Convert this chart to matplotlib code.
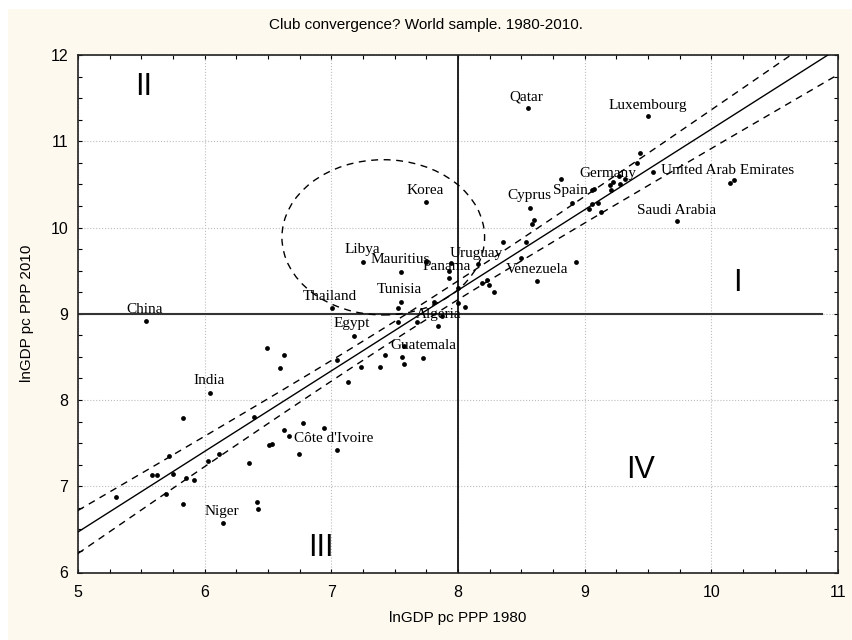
import numpy as np
import matplotlib
matplotlib.use('Agg')
import matplotlib.pyplot as plt
from matplotlib.patches import Ellipse, Rectangle
from matplotlib.ticker import MultipleLocator

# lnGDP per capita PPP, 1980 (x) and 2010 (y)
gdp_1980 = [
    5.535, 7.006, 7.176, 7.044, 7.238, 7.133, 6.490, 6.628, 6.595, 6.040,
    5.832, 6.390, 6.629, 6.669, 6.780, 6.940, 7.048, 6.745, 6.509, 6.533,
    6.114, 6.027, 6.351, 5.716, 5.585, 5.622, 5.750, 5.856, 5.919, 5.695,
    5.298, 5.832, 6.414, 6.424, 6.145,
    7.745, 7.250, 7.748, 7.550, 7.945, 7.927, 7.927, 8.156, 8.002, 7.812,
    7.550, 7.530, 8.002, 8.058, 7.872, 7.840, 7.674, 7.528, 7.560, 7.573,
    7.723, 7.576, 7.421, 7.388, 8.190, 8.229, 8.242, 8.282, 8.356, 8.540,
    8.497, 8.622, 8.935, 8.571, 8.603, 8.585,
    8.551, 9.503, 9.440, 9.415, 9.538, 10.148, 10.182, 9.729, 9.198, 9.224,
    9.269, 9.282, 9.318, 9.209, 9.059, 9.072, 8.816, 8.900, 9.032, 9.059,
    9.109, 9.129,
]
gdp_2010 = [
    8.920, 9.065, 8.747, 8.465, 8.383, 8.213, 8.608, 8.527, 8.368, 8.086,
    7.788, 7.800, 7.649, 7.584, 7.738, 7.676, 7.425, 7.378, 7.475, 7.487,
    7.378, 7.297, 7.270, 7.347, 7.127, 7.127, 7.143, 7.092, 7.077, 6.907,
    6.872, 6.795, 6.814, 6.733, 6.575,
    10.294, 9.595, 9.600, 9.489, 9.594, 9.490, 9.410, 9.575, 9.304, 9.142,
    9.142, 9.063, 9.130, 9.080, 8.972, 8.860, 8.908, 8.908, 8.497, 8.416,
    8.482, 8.628, 8.522, 8.386, 9.360, 9.390, 9.330, 9.250, 9.834, 9.834,
    9.644, 9.380, 9.602, 10.230, 10.085, 10.040,
    11.381, 11.288, 10.863, 10.748, 10.640, 10.515, 10.546, 10.074, 10.495, 10.522,
    10.598, 10.505, 10.565, 10.437, 10.437, 10.446, 10.561, 10.287, 10.220, 10.273,
    10.280, 10.182,
]

# country labels and where the text sits (centre, baseline)
label_names = ['China', 'Thailand', 'Egypt', 'India', "Côte d'Ivoire", 'Niger',
               'Korea', 'Libya', 'Mauritius', 'Panama', 'Uruguay', 'Tunisia',
               'Algeria', 'Guatemala', 'Cyprus', 'Venezuela', 'Qatar', 'Luxembourg',
               'Germany', 'Spain', 'United Arab Emirates', 'Saudi Arabia']
label_x = [5.525, 6.988, 7.158, 6.033, 7.020, 6.138,
           7.743, 7.245, 7.540, 7.909, 8.143, 7.540,
           7.848, 7.724, 8.562, 8.624, 8.537, 9.497,
           9.184, 8.887, 10.129, 9.729]
label_y = [9.012, 9.154, 8.852, 8.187, 7.518, 6.667,
           10.390, 9.703, 9.586, 9.509, 9.656, 9.246,
           8.949, 8.589, 10.333, 9.478, 11.473, 11.377,
           10.580, 10.387, 10.619, 10.159]

quadrants = ['I', 'II', 'III', 'IV']
quad_x = [10.208, 5.516, 6.914, 9.440]
quad_y = [9.355, 11.63, 6.280, 7.190]

x = np.array(gdp_1980)
y = np.array(gdp_2010)

# OLS fit and 95% confidence band for the mean
n = len(x)
slope, intercept = np.polyfit(x, y, 1)
resid = y - (intercept + slope * x)
s = np.sqrt(np.sum(resid ** 2) / (n - 2))
xm = x.mean()
sxx = np.sum((x - xm) ** 2)
xs = np.linspace(5, 11, 200)
fit = intercept + slope * xs
hw = 1.986 * s * np.sqrt(1.0 / n + (xs - xm) ** 2 / sxx)

fig = plt.figure(figsize=(8.52, 6.4), dpi=100, facecolor='white')
fig.patches.append(Rectangle((8 / 852, 0), 1, 1 - 9 / 640, transform=fig.transFigure,
                             facecolor='#fdf9ef', edgecolor='none', zorder=-10))
ax = fig.add_axes([78 / 852, 1 - 572.5 / 640, 760 / 852, 517.5 / 640])
ax.set_facecolor('white')

ax.set_xlim(5, 11)
ax.set_ylim(6, 12)
ax.xaxis.set_major_locator(MultipleLocator(1))
ax.yaxis.set_major_locator(MultipleLocator(1))
ax.xaxis.set_minor_locator(MultipleLocator(0.25))
ax.yaxis.set_minor_locator(MultipleLocator(0.25))
ax.tick_params(which='both', direction='in', top=True, right=True, length=3, width=0.8)
ax.tick_params(axis='x', which='major', pad=9)
ax.tick_params(axis='y', which='major', pad=7)
ax.grid(True, which='major', color='#bdbdbd', linestyle=':', linewidth=0.8)
ax.set_axisbelow(True)
for sp in ax.spines.values():
    sp.set_linewidth(1.2)
    sp.set_color('#222222')

for lab in ax.get_xticklabels() + ax.get_yticklabels():
    lab.set_fontfamily('Liberation Sans')
    lab.set_fontsize(11.5)

# quadrant lines
ax.plot([5, 10.87], [9, 9], color='#333333', linewidth=1.5, zorder=2)
ax.axvline(8, color='#111111', linewidth=1.3, zorder=2)

# regression and confidence band
ax.plot(xs, fit, color='black', linewidth=1.0, zorder=3)
ax.plot(xs, fit + hw, color='black', linewidth=1.0, linestyle=(0, (5, 4)), zorder=3)
ax.plot(xs, fit - hw, color='black', linewidth=1.0, linestyle=(0, (5, 4)), zorder=3)

# the "club" ellipse
ax.add_patch(Ellipse((7.41, 9.886), 1.6, 1.8, fill=False, edgecolor='black',
                     linewidth=1.0, linestyle=(0, (5, 4)), zorder=3))

ax.scatter(x, y, s=12, color='black', linewidths=0, zorder=4)

for name, lx, ly in zip(label_names, label_x, label_y):
    ax.text(lx, ly, name, ha='center', va='baseline', fontsize=11,
            family='Liberation Serif', zorder=5)

for q, qx, qy in zip(quadrants, quad_x, quad_y):
    ax.text(qx, qy, q, ha='center', va='center', fontsize=22,
            family='Liberation Sans', zorder=5)

ax.set_xlabel('lnGDP pc PPP 1980', fontsize=11, family='Liberation Sans', labelpad=8)
ax.set_ylabel('lnGDP pc PPP 2010', fontsize=11, family='Liberation Sans', labelpad=12)
fig.text(0.5, 1 - 25 / 640, 'Club convergence? World sample. 1980-2010.',
         ha='center', va='center', fontsize=11, family='Liberation Sans')

fig.savefig('out.png', dpi=100, facecolor=fig.get_facecolor())
